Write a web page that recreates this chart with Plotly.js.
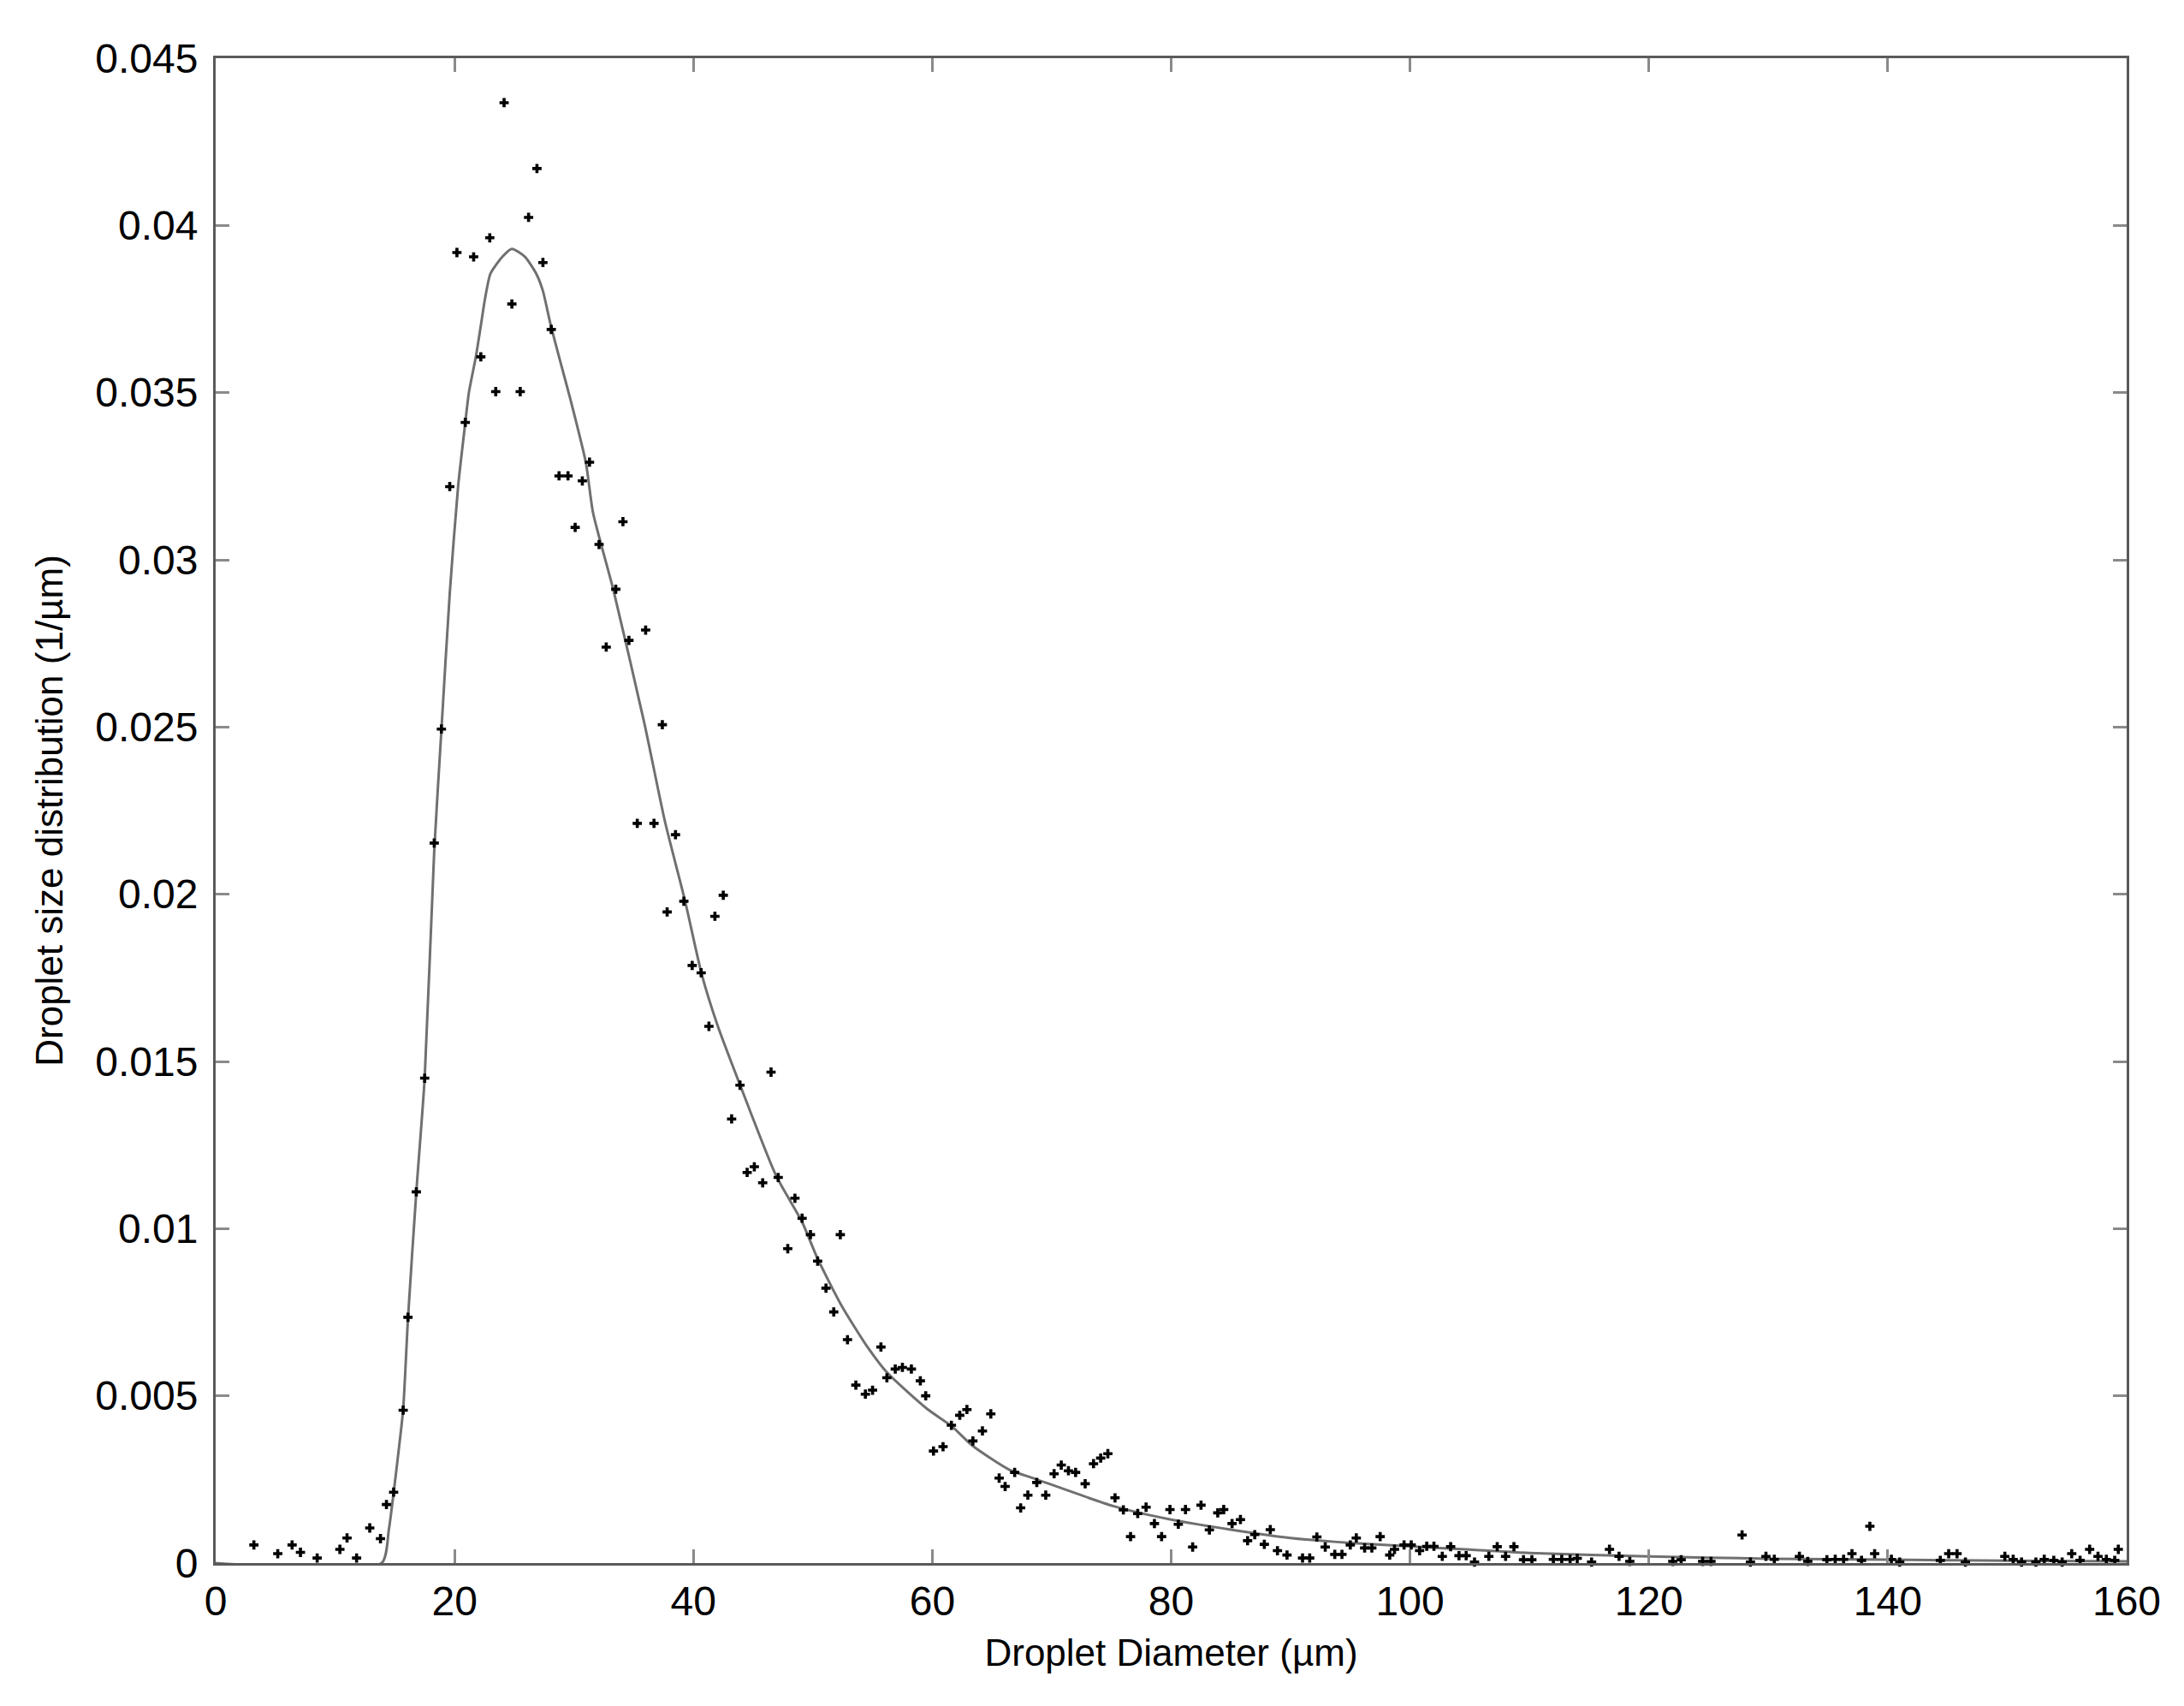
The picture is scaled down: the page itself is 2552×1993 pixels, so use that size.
<!DOCTYPE html>
<html>
<head>
<meta charset="utf-8">
<script src="https://cdn.plot.ly/plotly-3.0.1.min.js"></script>
<style>
  html, body { margin: 0; padding: 0; background: #fff; }
  #chart { width: 2552px; height: 1993px; }
</style>
</head>
<body>
<div id="chart"></div>
<script>
const diameter = [
    3.2, 5.2, 6.4, 7.1, 8.5, 10.4, 11.0, 11.8, 12.9, 13.8,
    14.3, 14.9, 15.7, 16.1, 16.8, 17.5, 18.3, 18.9, 19.6, 20.2,
    20.9, 21.6, 22.2, 22.95, 23.45, 24.15, 24.8, 25.5, 26.2, 26.9,
    27.4, 28.1, 28.75, 29.5, 30.1, 30.7, 31.3, 32.1, 32.7, 33.5,
    34.1, 34.6, 35.3, 36.0, 36.7, 37.4, 37.8, 38.5, 39.2, 39.9,
    40.65, 41.3, 41.8, 42.5, 43.2, 43.9, 44.5, 45.1, 45.8, 46.5,
    47.1, 47.9, 48.5, 49.1, 49.8, 50.4, 51.1, 51.75, 52.3, 52.9,
    53.6, 54.4, 55.0, 55.7, 56.2, 56.9, 57.5, 58.25, 59.0, 59.45,
    60.1, 60.9, 61.6, 62.3, 62.9, 63.4, 64.2, 64.9, 65.6, 66.1,
    66.9, 67.4, 68.0, 68.75, 69.5, 70.2, 70.8, 71.4, 72.0, 72.8,
    73.5, 74.1, 74.7, 75.3, 76.0, 76.6, 77.2, 77.9, 78.6, 79.2,
    79.9, 80.6, 81.2, 81.8, 82.5, 83.2, 83.9, 84.4, 85.1, 85.8,
    86.4, 87.0, 87.8, 88.3, 88.9, 89.7, 91.0, 91.6, 92.2, 92.9,
    93.7, 94.3, 95.0, 95.5, 96.2, 96.8, 97.5, 98.3, 98.7, 99.5,
    100.1, 100.8, 101.4, 102.0, 102.7, 103.4, 104.1, 104.7, 105.4, 106.6,
    107.3, 108.0, 108.7, 109.5, 110.2, 112.0, 112.7, 113.4, 114.0, 115.2,
    116.7, 117.5, 118.4, 122.0, 122.7, 124.5, 125.2, 127.8, 128.5, 129.8,
    130.5, 132.6, 133.3, 134.9, 135.6, 136.3, 137.0, 137.8, 138.5, 138.9,
    140.3, 141.0, 144.4, 145.1, 145.8, 146.5, 149.8, 150.5, 151.2, 152.4,
    153.1, 153.9, 154.6, 155.4, 156.1, 156.9, 157.6, 158.3, 159.0, 159.3
];
const measured = [
    0.00054, 0.00028, 0.00054, 0.00032, 0.00015, 0.00041, 0.00075, 0.00015, 0.00105, 0.00073,
    0.00175, 0.00212, 0.00457, 0.00735, 0.0111, 0.0145, 0.02153, 0.02494, 0.03219, 0.03919,
    0.03411, 0.03906, 0.03607, 0.03963, 0.03503, 0.04367, 0.03765, 0.03503, 0.04024, 0.0417,
    0.03889, 0.03689, 0.03251, 0.03251, 0.03097, 0.03236, 0.03292, 0.03046, 0.02739, 0.02912,
    0.03114, 0.02759, 0.02212, 0.0279, 0.02212, 0.02507, 0.01947, 0.02178, 0.01979, 0.01787,
    0.01765, 0.01605, 0.01934, 0.01997, 0.01328, 0.01429, 0.01168, 0.01185, 0.01137, 0.01468,
    0.01153, 0.0094, 0.01091, 0.01031, 0.00982, 0.00903, 0.00822, 0.00751, 0.00982, 0.00668,
    0.00532, 0.00505, 0.00517, 0.00646, 0.00554, 0.0058, 0.00585, 0.0058, 0.00545, 0.005,
    0.00335, 0.00348, 0.00412, 0.00442, 0.00459, 0.00365, 0.00395, 0.00446, 0.00254, 0.00229,
    0.00271, 0.00165, 0.00203, 0.00241, 0.00203, 0.00267, 0.00293, 0.00276, 0.00271, 0.00237,
    0.00297, 0.00314, 0.00327, 0.00195, 0.00159, 0.00079, 0.00148, 0.00167, 0.00118, 0.00079,
    0.0016, 0.00116, 0.0016, 0.00048, 0.00173, 0.00099, 0.0015, 0.0016, 0.00118, 0.0013,
    0.00067, 0.00085, 0.00056, 0.001, 0.00037, 0.00024, 0.00015, 0.00015, 0.00078, 0.00048,
    0.00026, 0.00026, 0.00054, 0.00075, 0.00045, 0.00045, 0.00079, 0.00024, 0.00041, 0.00054,
    0.00054, 0.00037, 0.0005, 0.0005, 0.0002, 0.00049, 0.00022, 0.00022, 0.00003, 0.0002,
    0.00049, 0.0002, 0.00049, 0.0001, 0.0001, 0.00011, 0.00011, 0.00011, 0.00014, 0.00003,
    0.00041, 0.0002, 0.00005, 0.00005, 0.0001, 0.00005, 0.00005, 0.00084, 0.00003, 0.0002,
    0.00011, 0.0002, 0.00005, 0.0001, 0.00011, 0.00011, 0.00028, 0.00008, 0.0011, 0.00028,
    0.00011, 0.00003, 0.00008, 0.00028, 0.00028, 0.00003, 0.0002, 0.00011, 0.00003, 0.00003,
    0.00011, 0.00008, 0.00003, 0.00028, 0.00008, 0.00041, 0.0002, 0.00011, 0.00008, 0.00041
];

// Fitted curve
const fitDiameter = [
    0, 13.9, 14.5, 14.9, 15.3, 15.7, 16.1, 16.8, 17.5, 18.3,
    18.9, 19.6, 20.3, 20.9, 21.2, 21.8, 22.2, 22.55, 23.0, 24.0,
    24.8, 25.9, 26.85, 27.4, 28.0, 28.75, 29.7, 31.0, 31.6, 33.3,
    35.9, 37.6, 39.3, 40.7, 42.0, 43.9, 46.9, 49.1, 50.4, 52.4,
    54.5, 56.2, 59.6, 61.6, 63.4, 66.4, 68.75, 75.2, 80, 85,
    90, 95, 100, 105, 110, 120, 130, 140, 150, 160
];
const fitDensity = [
    0, 0, 0.0010, 0.0021, 0.0033, 0.0046, 0.0073, 0.0111, 0.0145, 0.0213,
    0.0249, 0.0290, 0.0322, 0.0341, 0.0350, 0.0361, 0.0370, 0.0378, 0.03855, 0.03906,
    0.03930, 0.03906, 0.03855, 0.03804, 0.0371, 0.03607, 0.0348, 0.0329, 0.0314, 0.0291,
    0.0251, 0.0222, 0.0198, 0.0176, 0.0161, 0.0143, 0.0116, 0.0102, 0.0091, 0.0077,
    0.0065, 0.0057, 0.0046, 0.0041, 0.0035, 0.0028, 0.0025, 0.0017, 0.0013, 0.0010,
    0.00075, 0.0006, 0.0005, 0.0004, 0.0003, 0.0002, 0.00013, 0.0001, 0.00007, 0.00005
];

const xTicks = [0, 20, 40, 60, 80, 100, 120, 140, 160];
const yTicks = [0, 0.005, 0.01, 0.015, 0.02, 0.025, 0.03, 0.035, 0.04, 0.045];
const yTickText = ['0', '0.005', '0.01', '0.015', '0.02', '0.025', '0.03', '0.035', '0.04', '0.045'];

const traces = [
    {
        x: fitDiameter,
        y: fitDensity,
        type: 'scatter',
        mode: 'lines',
        line: { color: '#707070', width: 3, shape: 'spline', smoothing: 0.6 },
        hoverinfo: 'skip'
    },
    {
        x: diameter,
        y: measured,
        type: 'scatter',
        mode: 'markers',
        cliponaxis: false,
        marker: { symbol: 'cross', size: 9, color: '#000' }
    }
];

const axisCommon = {
    showgrid: false,
    zeroline: false,
    showline: true,
    linecolor: '#5a5a5a',
    linewidth: 3,
    mirror: 'ticks',
    ticks: 'inside',
    ticklen: 16,
    tickwidth: 3,
    tickcolor: '#8a8a8a',
    tickfont: { size: 48, color: '#000' }
};

const layout = {
    width: 2552,
    height: 1993,
    margin: { l: 252, r: 67, t: 68, b: 167 },
    paper_bgcolor: '#fff',
    plot_bgcolor: '#fff',
    font: { family: 'Liberation Sans, Arial, sans-serif', color: '#000' },
    showlegend: false,
    xaxis: Object.assign({}, axisCommon, {
        range: [0, 160],
        tickvals: xTicks,
        ticktext: xTicks.map(String),
        title: { text: 'Droplet Diameter (µm)', font: { size: 44 }, standoff: 20 }
    }),
    yaxis: Object.assign({}, axisCommon, {
        range: [0, 0.045],
        tickvals: yTicks,
        ticktext: yTickText,
        ticklabelstandoff: 8,
        title: { text: 'Droplet size distribution (1/µm)', font: { size: 44 }, standoff: 24 }
    })
};

Plotly.newPlot('chart', traces, layout, { displayModeBar: false, staticPlot: true });
</script>
</body>
</html>
